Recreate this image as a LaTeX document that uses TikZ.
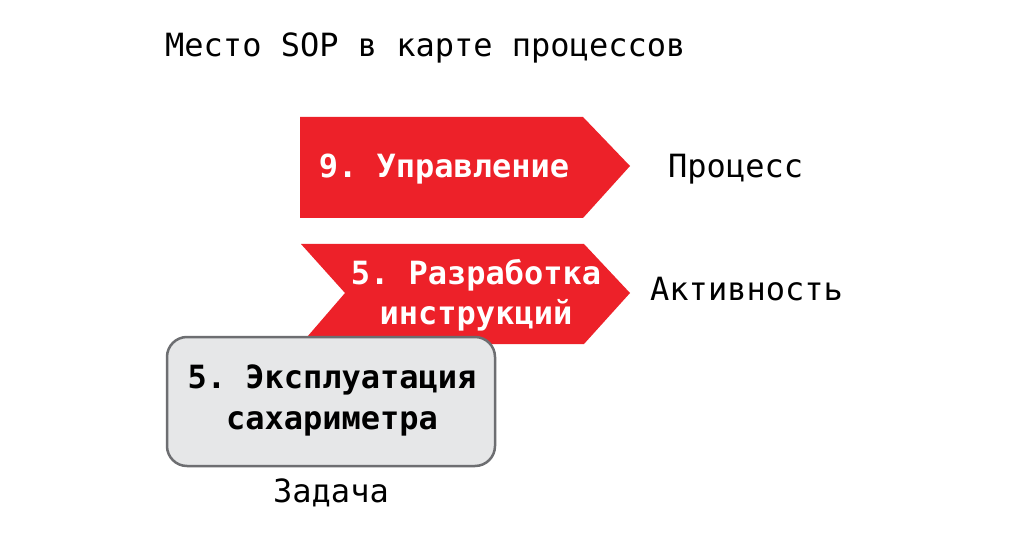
\documentclass[tikz,border=0pt]{standalone}
\usepackage{fontspec}
\setmonofont{DejaVu Sans Mono}
\definecolor{sopred}{HTML}{ED2129}
\definecolor{boxfill}{HTML}{E6E7E8}
\definecolor{boxline}{HTML}{6D6E71}
\begin{document}
\begin{tikzpicture}[x=1pt,y=-1pt,
  txt/.style={inner sep=0pt,anchor=base west,font=\ttfamily\fontsize{32}{40}\selectfont},
  wtxt/.style={inner sep=0pt,anchor=base,text=white,font=\ttfamily\bfseries\fontsize{32}{40}\selectfont},
  btxt/.style={inner sep=0pt,anchor=base,text=black,font=\ttfamily\bfseries\fontsize{32}{40}\selectfont},
  redshape/.style={fill=sopred,draw=none},
  taskbox/.style={fill=boxfill,draw=boxline,line width=2.5pt,rounded corners=20pt}]
\useasboundingbox (0,0) rectangle (1011,537);
\fill[white] (0,0) rectangle (1011,537);
% title
\node[txt] (title) at (165,57) {Место SOP в карте процессов};
% process arrow
\path[redshape] (300,117) -- (583,117) -- (630,166) -- (583,218) -- (300,218) -- cycle;
\node[wtxt] (proc1) at (444,178) {9. Управление};
\node[txt] (proclbl) at (668,178) {Процесс};
% activity chevron
\path[redshape] (301,244) -- (584,244) -- (630,293) -- (584,344) -- (301,344) -- (345,293) -- cycle;
\node[wtxt] (act1) at (476,284) {5. Разработка};
\node[wtxt] (act2) at (476,324) {инструкций};
\node[txt] (actlbl) at (650,300) {Активность};
% task box
\path[taskbox] (167,337) rectangle (495,466);
\node[btxt] (task1) at (332,388) {5. Эксплуатация};
\node[btxt] (task2) at (332,429) {сахариметра};
\node[txt,anchor=base] (tasklbl) at (331,502) {Задача};
\end{tikzpicture}
\end{document}
